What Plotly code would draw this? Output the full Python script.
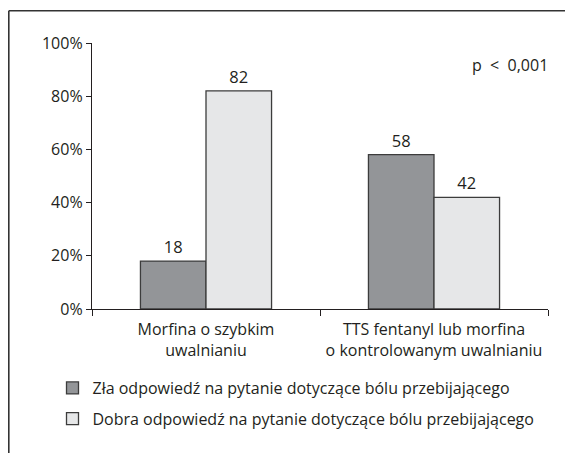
import plotly.graph_objects as go

categories = ["Morfina o szybkim<br>uwalnianiu", "TTS fentanyl lub morfina<br>o kontrolowanym uwalnianiu"]
bad_answer = [18, 58]
good_answer = [82, 42]
series_names = ["Zła odpowiedź na pytanie dotyczące bólu przebijającego",
                "Dobra odpowiedź na pytanie dotyczące bólu przebijającego"]
y_ticks = [0, 20, 40, 60, 80, 100]
y_tick_labels = ["0%", "20%", "40%", "60%", "80%", "100%"]
p_text = "p  <  0,001"

FONT = "Open Sans, Noto Sans, sans-serif"
TXT = "#231f20"
EDGE = "#3c3c3c"

fig = go.Figure()
fig.add_bar(x=categories, y=bad_answer, name=series_names[0], legendgroup="bad",
            marker=dict(color="#939598", line=dict(color=EDGE, width=1.3)),
            text=[str(v) for v in bad_answer], textposition="outside",
            textfont=dict(size=16.5, color=TXT, family=FONT), cliponaxis=False)
fig.add_bar(x=categories, y=good_answer, name=series_names[1], legendgroup="good",
            marker=dict(color="#e6e7e8", line=dict(color=EDGE, width=1.3)),
            text=[str(v) for v in good_answer], textposition="outside",
            textfont=dict(size=16.5, color=TXT, family=FONT), cliponaxis=False)

# page body adds an 8px offset; figure coordinates = reference coordinates - 8
W, H = 565, 445
L, R, T, B = 84, 25, 35, 144
pw, ph = W - L - R, H - T - B

fig.update_layout(
    width=W, height=H,
    margin=dict(l=L, r=R, t=T, b=B, autoexpand=False),
    paper_bgcolor="white", plot_bgcolor="white",
    barmode="group", bargap=0.425, bargroupgap=0,
    font=dict(family=FONT, size=16, color=TXT),
    showlegend=True,
    legend=dict(x=(44.5 - L) / pw, y=-62 / ph, xanchor="left", yanchor="top",
                font=dict(size=16, family=FONT, color=TXT),
                tracegroupgap=7, itemclick=False, bgcolor="rgba(0,0,0,0)",
                traceorder="grouped"),
)
fig.update_xaxes(showline=True, linecolor=TXT, linewidth=1.3,
                 ticks="outside", tickson="boundaries", ticklen=6, tickcolor=TXT, tickwidth=1.3,
                 ticklabelstandoff=6,
                 showgrid=False, zeroline=False, tickfont=dict(size=16, color=TXT),
                 fixedrange=True)
fig.update_yaxes(range=[0, 100], tickvals=y_ticks, ticktext=y_tick_labels,
                 showline=True, linecolor=TXT, linewidth=1.3,
                 ticks="outside", ticklen=5, tickcolor=TXT, tickwidth=1.3,
                 showgrid=False, zeroline=False, tickfont=dict(size=16, color=TXT),
                 fixedrange=True)

fig.add_annotation(text=p_text, xref="paper", yref="paper", x=1.005, y=(301 - 57) / ph,
                   xanchor="right", yanchor="middle", showarrow=False,
                   font=dict(size=16, color=TXT, family=FONT))

# outer frame (top and left edges)
fx = (0.8 - L) / pw
fy = 1 + (T - 2.8) / ph
fig.add_shape(type="line", xref="paper", yref="paper", x0=fx, x1=(W - L) / pw + 0.02, y0=fy, y1=fy,
              line=dict(color="#333333", width=1.6))
fig.add_shape(type="line", xref="paper", yref="paper", x0=fx, x1=fx, y0=fy, y1=-(B + 5) / ph,
              line=dict(color="#333333", width=1.6))

fig.write_html("out.html")
